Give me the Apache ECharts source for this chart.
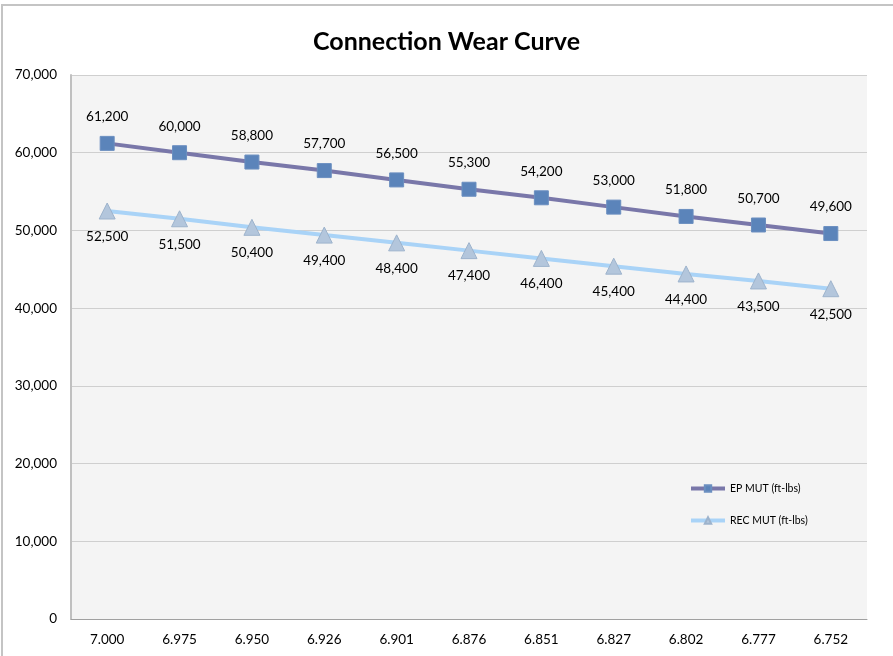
<!DOCTYPE html>
<html><head><meta charset="utf-8">
<script src="https://cdn.jsdelivr.net/npm/echarts@6/dist/echarts.min.js"></script>
<style>html,body{margin:0;padding:0;background:#fff}#c{width:893px;height:656px}</style>
</head><body><div id="c"></div>
<script>
const categories = ['7.000','6.975','6.950','6.926','6.901','6.876','6.851','6.827','6.802','6.777','6.752'];
const epMut = [61200,60000,58800,57700,56500,55300,54200,53000,51800,50700,49600];
const recMut = [52500,51500,50400,49400,48400,47400,46400,45400,44400,43500,42500];
const seriesNames = ['EP MUT (ft-lbs)','REC MUT (ft-lbs)'];

const chart = echarts.init(document.getElementById('c'));
const fmt = v => v.toLocaleString('en-US');
chart.setOption({
  animation:false,
  textStyle:{fontFamily:'Lato, "Open Sans", sans-serif'},
  title:{text:'Connection Wear Curve',left:'center',top:24,textStyle:{fontSize:25,fontWeight:'bold',color:'#000',fontFamily:'Lato, sans-serif'}},
  graphic:[{type:'polyline',shape:{points:[[2,660],[2,5],[900,5]]},style:{stroke:'#c4c4c4',lineWidth:2,fill:null},z:-1}],
  grid:{left:71,right:26,top:75,bottom:37,backgroundColor:'#f4f4f4',show:true,borderWidth:0},
  legend:{orient:'vertical',left:684,top:478,itemGap:21,itemWidth:34,itemHeight:8,
    lineStyle:{width:4},
    textStyle:{fontSize:10.5,color:'#000'},data:seriesNames},
  xAxis:{type:'category',data:categories,boundaryGap:true,
    axisLine:{lineStyle:{color:'#a0a0a0',width:1}},axisTick:{show:false},
    axisLabel:{fontSize:13.5,color:'#000',margin:14}},
  yAxis:{type:'value',min:0,max:70000,interval:10000,
    axisLine:{show:true,lineStyle:{color:'#c0c0c0',width:2}},axisTick:{show:false},
    splitLine:{lineStyle:{color:'#cfcfcf'}},
    axisLabel:{fontSize:13.5,color:'#000',margin:14,formatter:fmt}},
  series:[
    {name:seriesNames[0],type:'line',data:epMut,symbol:'rect',symbolSize:14,
     lineStyle:{color:'#7977a9',width:4},itemStyle:{color:'#5b84ba',borderColor:'#6b8fc0',borderWidth:1},
     label:{show:true,position:'top',distance:12,fontSize:13.5,color:'#000',formatter:p=>fmt(p.value)}},
    {name:seriesNames[1],type:'line',data:recMut,symbol:'triangle',symbolSize:16,
     lineStyle:{color:'#a9d3f7',width:4},itemStyle:{color:'#b3c6dc',borderColor:'#9db3cc',borderWidth:1},
     label:{show:true,position:'bottom',distance:10,fontSize:13.5,color:'#000',formatter:p=>fmt(p.value)}}
  ]
});
</script></body></html>
